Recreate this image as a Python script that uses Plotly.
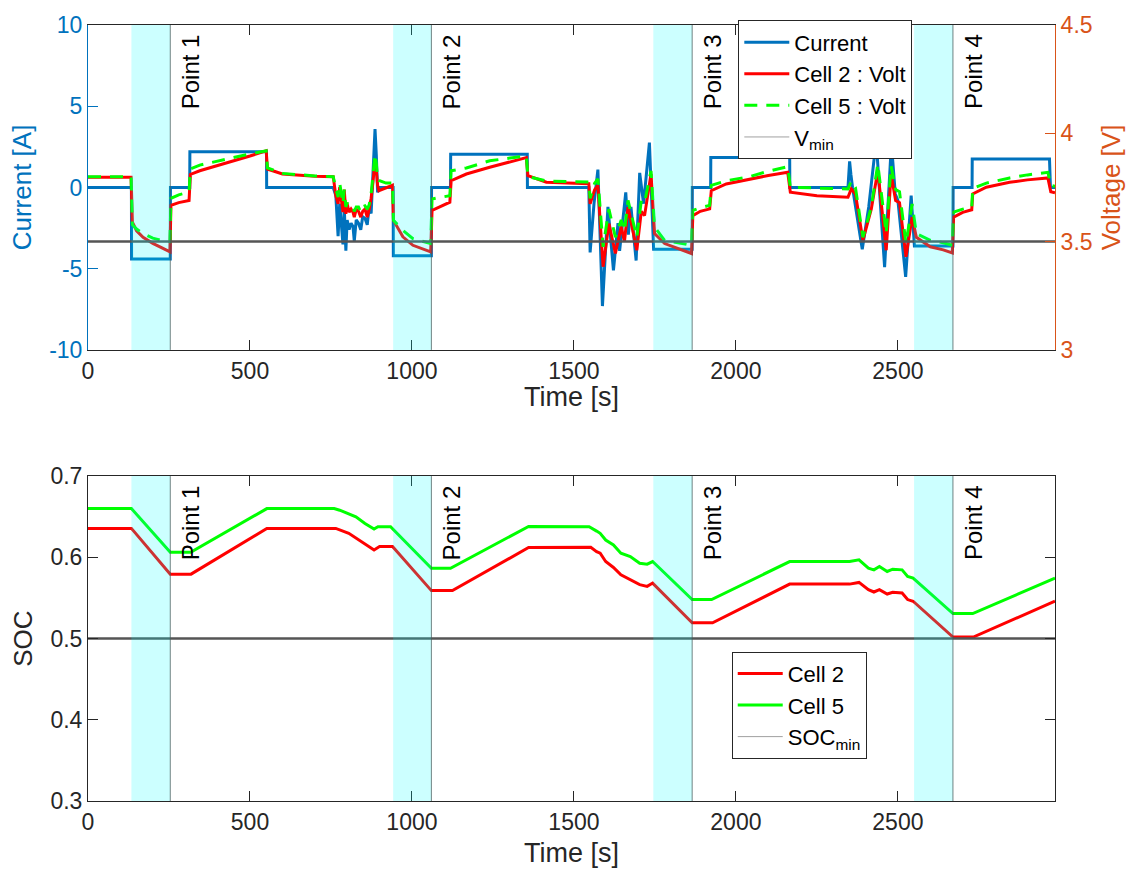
import plotly.graph_objects as go

# ---------------- data ----------------
x_max = 2985

time_current = [0, 134, 134.5, 254, 254.5, 314, 314.5, 551, 551.5, 757,
                765, 772, 777, 783, 787, 791, 796, 800, 806, 812, 818, 822, 828, 835,
                842, 848, 855, 862, 868, 874, 880, 886, 890, 894, 898,
                942, 942.5, 1060, 1060.5, 1119, 1119.5, 1356, 1356.5, 1546,
                1550, 1562, 1574, 1588, 1605, 1622, 1636, 1641, 1660, 1668, 1676,
                1692, 1703, 1715, 1733, 1746, 1865, 1865.5, 1922, 1922.5, 2166, 2166.5,
                2346, 2351, 2355, 2360, 2390, 2410, 2433, 2459, 2480, 2492, 2500, 2524,
                2541, 2551, 2670, 2670.5, 2729, 2729.5, 2968, 2971, 2985]
current_A = [0, 0, -4.4, -4.4, 0, 0, 2.2, 2.2, 0, 0,
             -0.5, -3.0, -1.0, -2.5, -3.5, -1.2, -3.9, -2.0, -2.6, -2.2, -2.4, -3.3, -2.0, -2.2,
             -2.6, -1.8, -1.9, -2.3, -1.2, -1.6, 1.0, 3.6, 2.0, -0.3, 0,
             0, -4.2, -4.2, 0, 0, 2.05, 2.05, 0, 0,
             -4.0, -1.0, 1.1, -7.3, -1.2, -5.1, -2.2, -3.9, -0.3, -2.9, -1.2,
             -4.5, 0.9, -1.0, 2.76, -3.8, -3.8, 0, 0, 1.85, 1.85, 0,
             0, 1.6, 0.8, 0, -3.8, -1.2, 2.9, -4.9, 2.7, -0.4, -0.8, -5.5,
             -0.5, -3.6, -3.6, 0, 0, 1.75, 1.75, 0, 0]

time_volt = [0, 133, 137, 150, 170, 200, 230, 253, 256, 280, 312, 316, 345, 400, 448, 500, 550,
             554, 600, 700, 757,
             765, 772, 777, 787, 791, 796, 800, 806, 812, 818, 822, 828, 835, 842, 848, 855,
             862, 868, 874, 880, 886, 890, 894, 898, 920, 940,
             943, 972, 1003, 1058, 1062, 1090, 1117, 1121, 1168, 1240, 1300, 1353,
             1358, 1415, 1480, 1546,
             1550, 1564, 1574, 1590, 1608, 1628, 1646, 1656, 1667, 1694, 1708, 1718, 1738, 1749,
             1780, 1820, 1863, 1867, 1890, 1919, 1924, 1970, 2042, 2100, 2160,
             2168, 2250, 2340,
             2346, 2356, 2369, 2392, 2418, 2438, 2464, 2479, 2493, 2505, 2525, 2544, 2557,
             2600, 2640, 2668, 2672, 2700, 2728, 2731, 2773, 2845, 2900, 2963, 2972, 2985]
volt_cell2 = [3.797, 3.797, 3.590, 3.550, 3.520, 3.492, 3.470, 3.453, 3.667, 3.680, 3.690,
              3.810, 3.827, 3.850, 3.873, 3.895, 3.919,
              3.835, 3.812, 3.802, 3.800,
              3.712, 3.674, 3.751, 3.636, 3.740, 3.628, 3.674, 3.636, 3.650, 3.636, 3.613,
              3.650, 3.640, 3.613, 3.640, 3.650,
              3.613, 3.650, 3.700, 3.780, 3.873, 3.830, 3.760, 3.735, 3.750, 3.760,
              3.598, 3.522, 3.483, 3.453, 3.644, 3.665, 3.682, 3.781, 3.812, 3.843, 3.866, 3.888,
              3.804, 3.774, 3.770, 3.767,
              3.674, 3.740, 3.760, 3.384, 3.583, 3.445, 3.570, 3.500, 3.659, 3.460, 3.640,
              3.620, 3.812, 3.537,
              3.491, 3.470, 3.445, 3.620, 3.640, 3.651, 3.735, 3.766, 3.789, 3.805, 3.820,
              3.728, 3.712, 3.705,
              3.705, 3.743, 3.720, 3.506, 3.651, 3.827, 3.460, 3.812, 3.690, 3.680, 3.430,
              3.613, 3.520,
              3.476, 3.462, 3.448, 3.613, 3.635, 3.647, 3.720, 3.751, 3.774, 3.785, 3.794,
              3.730, 3.725]
volt_cell5 = [3.800, 3.800, 3.578, 3.558, 3.537, 3.516, 3.505, 3.500, 3.700, 3.716, 3.728,
              3.835, 3.853, 3.870, 3.888, 3.905, 3.919,
              3.840, 3.815, 3.803, 3.800,
              3.745, 3.706, 3.770, 3.674, 3.740, 3.660, 3.680, 3.660, 3.660, 3.660, 3.640,
              3.660, 3.660, 3.636, 3.660, 3.665,
              3.650, 3.670, 3.720, 3.827, 3.904, 3.860, 3.790, 3.782, 3.770, 3.770,
              3.598, 3.552, 3.514, 3.491, 3.697, 3.705, 3.712, 3.827, 3.840, 3.873, 3.885, 3.896,
              3.800, 3.780, 3.777, 3.775,
              3.700, 3.770, 3.790, 3.476, 3.650, 3.520, 3.600, 3.550, 3.690, 3.520, 3.690,
              3.680, 3.827, 3.567,
              3.506, 3.495, 3.483, 3.644, 3.656, 3.667, 3.760, 3.781, 3.800, 3.825, 3.846,
              3.751, 3.748, 3.745,
              3.743, 3.780, 3.750, 3.520, 3.660, 3.858, 3.537, 3.850, 3.740, 3.730, 3.490,
              3.674, 3.537,
              3.506, 3.495, 3.483, 3.636, 3.650, 3.659, 3.745, 3.770, 3.794, 3.808, 3.820,
              3.760, 3.755]

time_soc2 = [0, 134, 254, 318, 552, 765, 805, 850, 883, 900, 940, 1060, 1125, 1360, 1552,
             1570, 1581, 1598, 1622, 1645, 1674, 1703, 1726, 1743, 1865, 1928, 2166, 2351,
             2380, 2409, 2426, 2443, 2467, 2484, 2513, 2530, 2547, 2670, 2733, 2985]
soc_cell2 = [0.6356, 0.6356, 0.5793, 0.5793, 0.6356, 0.6356, 0.6295, 0.6172, 0.609, 0.6132,
             0.6132, 0.559, 0.559, 0.612, 0.6123,
             0.607, 0.605, 0.5948, 0.5875, 0.5785, 0.5724, 0.5663, 0.5642, 0.5683, 0.5194,
             0.5194, 0.567, 0.567,
             0.5691, 0.5602, 0.5573, 0.5602, 0.5548, 0.5569, 0.556, 0.548, 0.5459, 0.5018,
             0.5018, 0.546]

time_soc5 = [0, 134, 254, 317, 552, 760, 777, 805, 827, 855, 883, 895, 934, 1060, 1119, 1360,
             1547, 1570, 1581, 1598, 1622, 1645, 1674, 1703, 1726, 1743, 1865, 1925, 2166,
             2351, 2380, 2409, 2426, 2443, 2467, 2484, 2513, 2530, 2547, 2670, 2731, 2985]
soc_cell5 = [0.660, 0.660, 0.6062, 0.6062, 0.660, 0.660, 0.658, 0.6539, 0.6498, 0.6417,
             0.6348, 0.6376, 0.6376, 0.5866, 0.5866, 0.638,
             0.6376, 0.6323, 0.6295, 0.6213, 0.6152, 0.605, 0.6009, 0.5927, 0.5915, 0.5948,
             0.548, 0.548, 0.5948,
             0.5948, 0.5969, 0.5866, 0.5846, 0.5887, 0.5826, 0.5854, 0.5846, 0.5765, 0.5744,
             0.5308, 0.5308, 0.5744]

v_min = 3.5
soc_min = 0.5

band_start = [134, 942, 1745, 2550]
band_end = [254, 1060, 1865, 2670]
point_labels = ["Point 1", "Point 2", "Point 3", "Point 4"]

x_ticks = [0, 500, 1000, 1500, 2000, 2500]
current_ticks = [-10, -5, 0, 5, 10]
current_ticktext = ["-10", "-5", "0", "5", "10"]
volt_ticks = [3, 3.5, 4, 4.5]
volt_ticktext = ["3", "3.5", "4", "4.5"]
soc_ticks = [0.3, 0.4, 0.5, 0.6, 0.7]
soc_ticktext = ["0.3", "0.4", "0.5", "0.6", "0.7"]

# ---------------- style ----------------
FONT = "Liberation Sans, Arial, Helvetica, sans-serif"
BLUE = "#0072BD"
ORANGE = "#D95319"
DARK = "#262626"
RED = "#FF0000"
GREEN = "#00FF00"
BAND = "rgba(0,255,255,0.2)"
LIMIT = "#555555"
TICK = 23
TITLE = 26
XTITLE = 27
LEG = 22

fig = go.Figure()

# top subplot
fig.add_trace(go.Scatter(x=time_current, y=current_A, mode="lines", name="Current",
                         line=dict(color=BLUE, width=3), xaxis="x", yaxis="y", legend="legend"))
fig.add_trace(go.Scatter(x=time_volt, y=volt_cell2, mode="lines", name="Cell 2 : Volt",
                         line=dict(color=RED, width=3), xaxis="x", yaxis="y2", legend="legend"))
fig.add_trace(go.Scatter(x=time_volt, y=volt_cell5, mode="lines", name="Cell 5 : Volt",
                         line=dict(color=GREEN, width=3, dash="13px,9px"), xaxis="x", yaxis="y2",
                         legend="legend"))
fig.add_trace(go.Scatter(x=[0, x_max], y=[v_min, v_min], mode="lines", showlegend=False,
                         line=dict(color=LIMIT, width=2.5), xaxis="x", yaxis="y2"))
fig.add_trace(go.Scatter(x=[None], y=[None], mode="lines", name="V<sub>min</sub>",
                         line=dict(color="#a0a0a0", width=1), xaxis="x", yaxis="y2", legend="legend"))

# bottom subplot
fig.add_trace(go.Scatter(x=time_soc2, y=soc_cell2, mode="lines", name="Cell 2",
                         line=dict(color=RED, width=3), xaxis="x2", yaxis="y3", legend="legend2"))
fig.add_trace(go.Scatter(x=time_soc5, y=soc_cell5, mode="lines", name="Cell 5",
                         line=dict(color=GREEN, width=3), xaxis="x2", yaxis="y3", legend="legend2"))
fig.add_trace(go.Scatter(x=[0, x_max], y=[soc_min, soc_min], mode="lines", showlegend=False,
                         line=dict(color=LIMIT, width=2.5), xaxis="x2", yaxis="y3"))
fig.add_trace(go.Scatter(x=[None], y=[None], mode="lines", name="SOC<sub>min</sub>",
                         line=dict(color="#a0a0a0", width=1), xaxis="x2", yaxis="y3", legend="legend2"))

shapes = []
annotations = []
for xr, yr in [("x", "y domain"), ("x2", "y3 domain")]:
    for s, e, lab in zip(band_start, band_end, point_labels):
        shapes.append(dict(type="rect", xref=xr, yref=yr, x0=s, x1=e, y0=0, y1=1,
                           fillcolor=BAND, line=dict(width=0), layer="above"))
        shapes.append(dict(type="line", xref=xr, yref=yr, x0=e, x1=e, y0=0, y1=1,
                           line=dict(color="rgba(70,90,90,0.75)", width=1), layer="above"))
        annotations.append(dict(text=lab, x=e, xref=xr, y=1, yref=yr, xanchor="left",
                                yanchor="top", textangle=-90, showarrow=False, xshift=5,
                                yshift=-7, font=dict(family=FONT, size=24, color="black")))

# x-axis titles (placed explicitly to match the reference spacing)
annotations.append(dict(text="Time [s]", x=0.5, xref="paper", y=0.521, yref="paper",
                        xanchor="center", yanchor="middle", showarrow=False,
                        font=dict(family=FONT, size=XTITLE, color=DARK)))
annotations.append(dict(text="Time [s]", x=0.5, xref="paper", y=-0.067, yref="paper",
                        xanchor="center", yanchor="middle", showarrow=False,
                        font=dict(family=FONT, size=XTITLE, color=DARK)))

axis_common = dict(showgrid=False, zeroline=False, showline=True, ticks="inside", ticklen=10,
                   tickwidth=1, tickfont=dict(family=FONT, size=TICK))

top_dom = [0.5813, 1.0]
bot_dom = [0.0, 0.4187]

fig.update_layout(
    width=1138, height=873,
    margin=dict(l=88, r=83, t=20, b=72),
    paper_bgcolor="white", plot_bgcolor="white",
    font=dict(family=FONT, size=TICK, color=DARK),
    xaxis=dict(**axis_common, domain=[0, 1], anchor="y", range=[0, x_max], mirror="ticks",
               linecolor=DARK, tickcolor=DARK, tickvals=x_ticks),
    yaxis=dict(**axis_common, domain=top_dom, anchor="x", range=[-10, 10], side="left",
               linecolor=BLUE, tickcolor=BLUE, color=BLUE, tickvals=current_ticks,
               ticktext=current_ticktext,
               title=dict(text="Current [A]", font=dict(family=FONT, size=TITLE, color=BLUE), standoff=10)),
    yaxis2=dict(**axis_common, overlaying="y", anchor="x", range=[3, 4.5], side="right",
                linecolor=ORANGE, tickcolor=ORANGE, color=ORANGE, tickvals=volt_ticks,
                ticktext=volt_ticktext,
                title=dict(text="Voltage [V]", font=dict(family=FONT, size=TITLE, color=ORANGE), standoff=10)),
    xaxis2=dict(**axis_common, domain=[0, 1], anchor="y3", range=[0, x_max], mirror="ticks",
                linecolor=DARK, tickcolor=DARK, tickvals=x_ticks),
    yaxis3=dict(**axis_common, domain=bot_dom, anchor="x2", range=[0.3, 0.7], mirror="ticks",
                linecolor=DARK, tickcolor=DARK, tickvals=soc_ticks, ticktext=soc_ticktext,
                title=dict(text="SOC", font=dict(family=FONT, size=TITLE, color=DARK), standoff=10)),
    legend=dict(x=0.6725, y=1.006, xanchor="left", yanchor="top", bgcolor="white",
                bordercolor=DARK, borderwidth=1, font=dict(family=FONT, size=LEG, color="black"),
                itemwidth=45, tracegroupgap=0),
    legend2=dict(x=0.6657, y=0.1925, xanchor="left", yanchor="top", bgcolor="white",
                 bordercolor=DARK, borderwidth=1, font=dict(family=FONT, size=LEG, color="black"),
                 itemwidth=45, tracegroupgap=0),
    shapes=shapes,
    annotations=annotations,
    showlegend=True,
)

fig.write_html("out.html")
